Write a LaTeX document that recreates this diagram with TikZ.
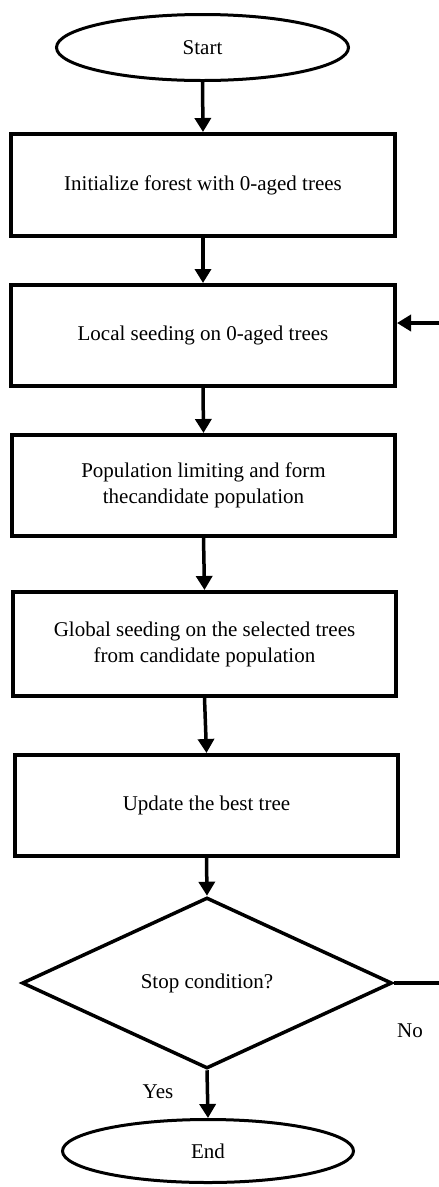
\documentclass[tikz,border=0pt]{standalone}
\usepackage{fontspec}
\setmainfont{Liberation Serif}
\usetikzlibrary{shapes.geometric,arrows.meta}
\begin{document}
\begin{tikzpicture}[x=1pt,y=-1pt,
  every node/.style={font=\fontsize{21}{26}\selectfont},
  term/.style={ellipse,draw,line width=3pt,inner sep=0pt},
  proc/.style={rectangle,draw,line width=4pt,inner sep=0pt,align=center},
  dec/.style={diamond,draw,line width=3.5pt,inner sep=0pt},
  flow/.style={line width=3.5pt,-{Triangle[width=16pt,length=14pt]}},
  plain/.style={line width=3.5pt},
  lab/.style={inner sep=0pt}]
\useasboundingbox (0,0) rectangle (439,1187);
\node[term,minimum width=292pt,minimum height=66pt] (start) at (202.5,47.5) {Start};
\node[proc,minimum width=384pt,minimum height=102pt] (b1) at (203,185) {Initialize forest with 0-aged trees};
\node[proc,minimum width=384pt,minimum height=101pt] (b2) at (203,335.5) {Local seeding on 0-aged trees};
\node[proc,minimum width=383pt,minimum height=101pt] (b3) at (203.5,485.5) {Population limiting and form\\thecandidate population};
\node[proc,minimum width=383pt,minimum height=104pt] (b4) at (204.5,644) {Global seeding on the selected trees\\from candidate population};
\node[proc,minimum width=383pt,minimum height=101pt] (b5) at (206.5,805.5) {Update the best tree};
\node[dec,minimum width=370pt,minimum height=171pt] (d) at (207,983) {Stop condition?};
\node[term,minimum width=291pt,minimum height=63pt] (end) at (208,1151) {End};
\coordinate (fb) at (445,323);
\coordinate (no) at (445,983);
\draw[flow] (start.south) -- (b1.north);
\draw[flow] (b1.south) -- (b2.north);
\draw[flow] (b2.south) -- (b3.north);
\draw[flow] (b3.south) -- (b4.north);
\draw[flow] (b4.south) -- (b5.north);
\draw[flow] (b5.south) -- (d.north);
\draw[flow] (d.south) -- (end.north);
\draw[flow] (fb) -- (fb -| b2.east);
\draw[plain] (d.east) -- (no);
\node[lab] (nolab) at (410,1031) {No};
\node[lab] (yeslab) at (158,1092) {Yes};
\end{tikzpicture}
\end{document}
